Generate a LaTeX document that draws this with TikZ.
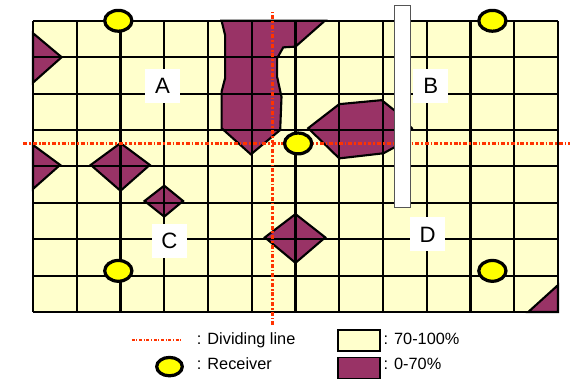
\documentclass[tikz,border=0pt]{standalone}
\usepackage{fontspec}
\setmainfont{Liberation Sans}
\usetikzlibrary{shapes.geometric}
\definecolor{cover}{HTML}{FFFFCC}
\definecolor{weak}{HTML}{993366}
\definecolor{divider}{HTML}{FF3300}
\definecolor{rx}{HTML}{FFFF00}
\definecolor{wallgray}{HTML}{555555}

\begin{document}
\begin{tikzpicture}[
  x=1.09375cm, y=0.91cm,
  cellline/.style={draw=black,line width=1.5pt},
  zone/.style={fill=weak,draw=black,line width=1.5pt},
  split/.style={draw=divider,line width=1.9pt,dash pattern=on 2.8pt off 1.4pt on 1.2pt off 1.4pt},
  rxnode/.style={ellipse,draw=black,fill=rx,line width=2.3pt,minimum width=0.68cm,minimum height=0.52cm,inner sep=0pt},
  area/.style={fill=white,minimum width=0.875cm,minimum height=0.85cm,inner sep=0pt,font=\fontsize{15.8}{18}\selectfont},
  wall/.style={fill=white,draw=wallgray,line width=0.8pt},
  key/.style={anchor=base west,inner sep=0pt,font=\fontsize{11.6}{14}\selectfont},
  swatch/.style={draw=black,line width=1.2pt,minimum width=1.05cm,minimum height=0.52cm,inner sep=0pt},
]
\useasboundingbox (-0.754,-1.868) rectangle (12.297,8.571);

% floor plan, 12 x 8 cells
\fill[cover] (0,0) rectangle (12,8);

% low coverage patches
\filldraw[zone] (0,7.66) -- (0.655,7.0) -- (0,6.3) -- cycle;
\filldraw[zone] (4.31,8) -- (4.39,7.61) -- (4.39,6.42) -- (4.31,6.05) -- (4.31,5.05)
  -- (4.98,4.33) -- (5.65,5.0) -- (5.68,5.91) -- (5.58,6.46) -- (5.58,6.97)
  -- (5.72,7.27) -- (6.0,7.29) -- (6.67,8) -- cycle;
\filldraw[zone] (6.29,5.05) -- (7.0,5.71) -- (7.97,5.82) -- (8.27,5.53) -- (8.66,5.05)
  -- (8.27,4.53) -- (8.01,4.36) -- (7.0,4.22) -- cycle;
\filldraw[zone] (0,4.59) -- (0.62,4.04) -- (0,3.38) -- cycle;
\filldraw[zone] (1.32,4.04) -- (2,4.64) -- (2.67,4.04) -- (2,3.33) -- cycle;
\filldraw[zone] (2.55,3.05) -- (3,3.47) -- (3.43,3.05) -- (3,2.62) -- cycle;
\filldraw[zone] (5.3,2.05) -- (6,2.69) -- (6.68,2.05) -- (6,1.35) -- cycle;
\filldraw[zone] (11.32,0) -- (12,0.74) -- (12,0) -- cycle;

\draw[cellline] (0,0) grid[step={(1,1)}] (12,8);

% dividing lines
\draw[split] (5.48,-0.36) -- (5.48,8.25);
\draw[split] (-0.22,4.63) -- (12.27,4.63);

% partition wall
\draw[wall] (8.27,2.88) rectangle (8.62,8.43);

% receivers
\node[rxnode] (rxnw) at (1.95,8) {};
\node[rxnode] (rxne) at (10.5,8) {};
\node[rxnode] (rxmid) at (6.06,4.63) {};
\node[rxnode] (rxsw) at (1.95,1.13) {};
\node[rxnode] (rxse) at (10.5,1.13) {};

% area names
\node[area] (areaA) at (2.96,6.21) {A};
\node[area] (areaB) at (9.09,6.21) {B};
\node[area] (areaC) at (3.12,1.96) {C};
\node[area] (areaD) at (9.02,2.13) {D};

% legend
\draw[draw=divider,line width=1.1pt,dash pattern=on 2pt off 1.2pt on 0.8pt off 1.2pt] (2.26,-0.77) -- (3.40,-0.77);
\node[key] (keydiv) at (3.74,-0.887) {: Dividing line};
\node[rxnode,minimum width=0.64cm,minimum height=0.46cm] (keyrx) at (3.12,-1.50) {};
\node[key] (keyrxtxt) at (3.74,-1.575) {: Receiver};
\node[swatch,fill=cover] (keyhigh) at (7.456,-0.783) {};
\node[key] (keyhightxt) at (8.007,-0.887) {: 70-100\%};
\node[swatch,fill=weak] (keylow) at (7.456,-1.538) {};
\node[key] (keylowtxt) at (8.007,-1.575) {: 0-70\%};
\end{tikzpicture}
\end{document}
